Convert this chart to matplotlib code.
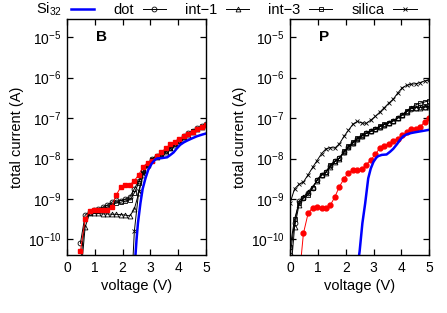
import numpy as np
import matplotlib
matplotlib.use("Agg")
import matplotlib.pyplot as plt
from matplotlib.lines import Line2D

plt.rcParams['font.family'] = ['Liberation Sans', 'DejaVu Sans']
plt.rcParams['mathtext.default'] = 'regular'
plt.rcParams['font.size'] = 10

# voltage grid of the marked series (V)
volts = [0.00, 0.16, 0.32, 0.48, 0.65, 0.81, 0.97, 1.13, 1.29, 1.45, 1.61,
         1.77, 1.94, 2.10, 2.26, 2.42, 2.58, 2.74, 2.90, 3.06, 3.23, 3.39,
         3.55, 3.71, 3.87, 4.03, 4.19, 4.35, 4.52, 4.68, 4.84, 5.00]
nan = np.nan

# panel B, log10 of current (A)
b_red = [nan, nan, nan, -10.3, -9.5, -9.3, -9.27, -9.27, -9.28, -9.28, -9.2,
         -8.9, -8.7, -8.65, -8.65, -8.55, -8.4, -8.2, -8.1, -8.05, -7.95, -7.85,
         -7.75, -7.65, -7.58, -7.52, -7.45, -7.4, -7.35, -7.28, -7.22, -7.17]
b_dot = [nan, nan, nan, -10.1, -9.4, -9.32, -9.28, -9.25, -9.2, -9.15, -9.08,
         -9.03, -9.04, -9.0, -8.95, -8.75, -8.55, -8.3, -8.15, -8.02, -7.95, -7.88,
         -7.8, -7.72, -7.62, -7.55, -7.45, -7.38, -7.32, -7.25, -7.2, -7.15]
b_int1 = [nan, nan, nan, -11.0, -9.7, -9.36, -9.36, -9.36, -9.37, -9.37, -9.38,
          -9.38, -9.39, -9.4, -9.42, -9.25, -8.85, -8.4, -8.15, -8.03, -7.97, -7.92,
          -7.83, -7.74, -7.66, -7.57, -7.5, -7.42, -7.35, -7.28, -7.22, -7.18]
b_int3 = [nan, nan, nan, -10.6, -9.5, -9.34, -9.3, -9.28, -9.24, -9.2, -9.14,
          -9.1, -9.08, -9.05, -9.02, -8.85, -8.6, -8.32, -8.14, -8.03, -7.96, -7.9,
          -7.81, -7.73, -7.64, -7.56, -7.47, -7.4, -7.33, -7.27, -7.21, -7.16]
b_silica = [nan, nan, nan, nan, nan, nan, nan, nan, nan, nan, nan,
            nan, nan, nan, -12.0, -9.8, -8.8, -8.35, -8.12, -8.0, -7.93, -7.9,
            -7.82, -7.73, -7.65, -7.56, -7.48, -7.4, -7.33, -7.27, -7.2, -7.17]
b_si32_v = [2.44, 2.5, 2.55, 2.64, 2.72, 2.82, 2.92, 3.05, 3.15, 3.23, 3.4,
            3.6, 3.7, 3.83, 3.95, 4.07, 4.2, 4.31, 4.5, 4.67, 4.85, 5.0]
b_si32 = [-10.6, -10.0, -9.6, -9.1, -8.75, -8.49, -8.28, -8.12, -8.04, -8.0, -7.99,
          -7.97, -7.92, -7.85, -7.75, -7.66, -7.6, -7.56, -7.5, -7.45, -7.41, -7.38]

# panel P, log10 of current (A)
p_red = [nan, nan, -11.0, -9.85, -9.35, -9.22, -9.21, -9.22, -9.23, -9.15, -8.95,
         -8.7, -8.5, -8.35, -8.28, -8.29, -8.27, -8.15, -8.04, -7.9, -7.74, -7.68,
         -7.64, -7.56, -7.51, -7.43, -7.34, -7.28, -7.26, -7.21, -7.1, -7.0]
p_dot = [-10.4, -9.6, -9.05, -8.97, -8.86, -8.72, -8.54, -8.41, -8.34, -8.18, -8.07,
         -7.99, -7.84, -7.71, -7.61, -7.51, -7.44, -7.38, -7.33, -7.28, -7.21, -7.16,
         -7.12, -7.07, -7.0, -6.92, -6.84, -6.77, -6.74, -6.73, -6.72, -6.7]
p_int1 = [-11.0, -9.7, -9.15, -8.95, -8.82, -8.7, -8.55, -8.42, -8.35, -8.2, -8.08,
          -8.0, -7.85, -7.72, -7.62, -7.52, -7.45, -7.38, -7.33, -7.28, -7.21, -7.16,
          -7.12, -7.07, -7.0, -6.92, -6.84, -6.76, -6.74, -6.74, -6.73, -6.72]
p_int3 = [-10.2, -9.5, -9.1, -8.98, -8.9, -8.74, -8.52, -8.4, -8.33, -8.15, -8.06,
          -7.99, -7.82, -7.7, -7.6, -7.5, -7.43, -7.37, -7.32, -7.27, -7.2, -7.15,
          -7.11, -7.06, -7.0, -6.93, -6.82, -6.75, -6.67, -6.63, -6.6, -6.57]
p_silica = [-9.1, -8.75, -8.64, -8.58, -8.4, -8.22, -8.05, -7.88, -7.76, -7.73, -7.74,
            -7.64, -7.45, -7.3, -7.15, -7.08, -7.12, -7.13, -7.05, -6.96, -6.85, -6.74,
            -6.63, -6.53, -6.38, -6.25, -6.19, -6.16, -6.15, -6.12, -6.08, -6.06]
p_si32_v = [2.44, 2.5, 2.6, 2.7, 2.81, 2.9, 3.0, 3.1, 3.17, 3.3, 3.47,
            3.6, 3.71, 3.85, 3.95, 4.07, 4.2, 4.35, 4.5, 4.75, 5.0]
p_si32 = [-10.6, -10.3, -9.6, -9.11, -8.49, -8.25, -8.08, -7.98, -7.94, -7.91, -7.9,
          -7.83, -7.76, -7.64, -7.54, -7.45, -7.4, -7.37, -7.35, -7.32, -7.29]


def to_amp(logs):
    return np.power(10.0, np.array(logs, dtype=float))


fig = plt.figure(figsize=(4.47, 3.13), dpi=100)
ax_b = fig.add_axes([0.150, 0.185, 0.311, 0.754])
ax_p = fig.add_axes([0.649, 0.185, 0.311, 0.754])

blk = dict(color='black', lw=0.7, ms=3.5, mfc='none', mew=0.6)

panels = [
    (ax_b, 'B', b_dot, b_int1, b_int3, b_silica, b_red, 's', b_si32_v, b_si32),
    (ax_p, 'P', p_dot, p_int1, p_int3, p_silica, p_red, 'o', p_si32_v, p_si32),
]
for ax, tag, dot, int1, int3, sil, red, red_m, sv, si in panels:
    ax.plot(volts, to_amp(int3), marker='s', **blk)
    ax.plot(volts, to_amp(int1), marker='^', **blk)
    ax.plot(volts, to_amp(dot), marker='o', **blk)
    ax.plot(volts, to_amp(sil), marker='x', **blk)
    ax.plot(volts, to_amp(red), color='red', lw=0.7, marker=red_m, ms=3.5,
            mfc='red', mec='red')
    ax.plot(sv, to_amp(si), color='blue', lw=1.8)
    ax.set_yscale('log')
    ax.set_xlim(0, 5)
    ax.set_ylim(10 ** -10.39, 10 ** -4.55)
    ax.set_xticks([0, 1, 2, 3, 4, 5])
    ax.set_yticks([1e-10, 1e-9, 1e-8, 1e-7, 1e-6, 1e-5])
    ax.minorticks_off()
    ax.tick_params(direction='in', top=True, right=True, length=4.5, width=0.9,
                   labelsize=10, pad=4)
    for s in ax.spines.values():
        s.set_linewidth(1.0)
    ax.set_xlabel('voltage (V)', fontsize=10.5, labelpad=3)
    ax.set_ylabel('total current (A)', fontsize=10.5, labelpad=3)
    ax.text(0.245, 0.925, tag, transform=ax.transAxes, fontsize=11,
            fontweight='bold', ha='center', va='center')

handles = [
    Line2D([], [], color='blue', lw=1.8),
    Line2D([], [], marker='o', **blk),
    Line2D([], [], marker='^', **blk),
    Line2D([], [], marker='s', **blk),
    Line2D([], [], marker='x', **blk),
]
labels = ['Si$_{32}$', 'dot', 'int\u22121', 'int\u22123', 'silica']
fig.legend(handles, labels, ncol=5, loc='upper left', bbox_to_anchor=(0.055, 1.035),
           frameon=False, markerfirst=False, handlelength=1.6, handletextpad=0.6,
           columnspacing=1.3, fontsize=10.5, numpoints=1, borderpad=0.3)

fig.savefig('out.png', dpi=100)
